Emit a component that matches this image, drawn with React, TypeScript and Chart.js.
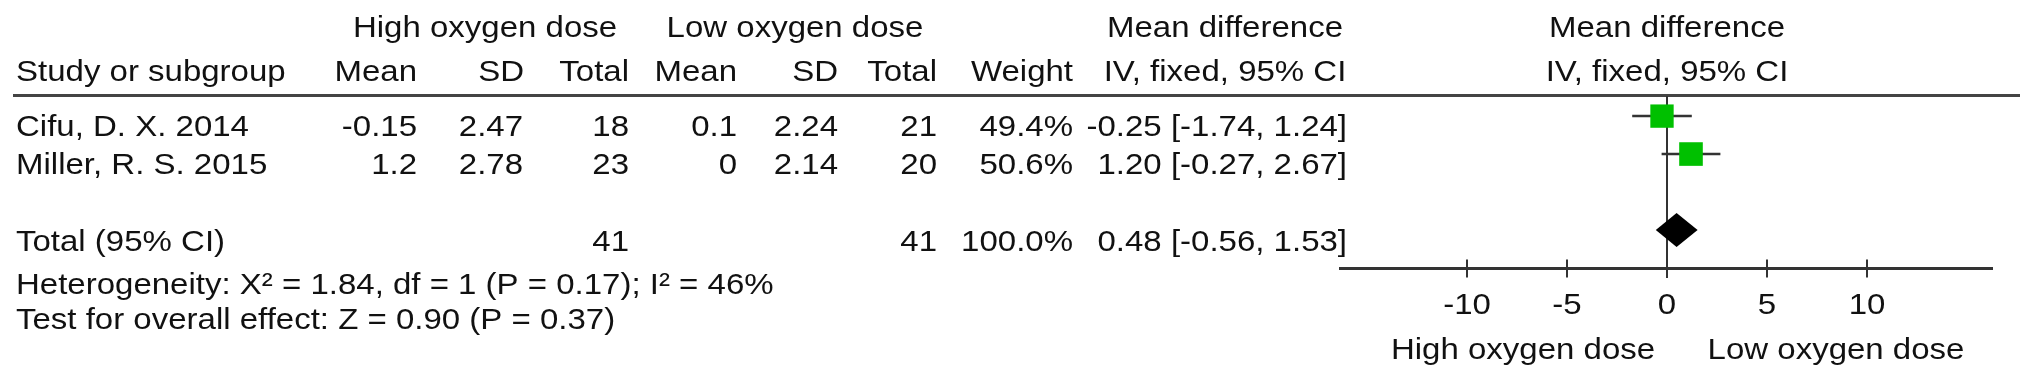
import React, { useEffect, useRef } from "react";
import { Chart, registerables } from "chart.js";

Chart.register(...registerables);

// ---- data ----
const studies = ["Cifu, D. X. 2014", "Miller, R. S. 2015"];
const highMean = [-0.15, 1.2];
const highSD = [2.47, 2.78];
const highN = [18, 23];
const lowMean = [0.1, 0];
const lowSD = [2.24, 2.14];
const lowN = [21, 20];
const weights = [49.4, 50.6];
const md = [-0.25, 1.2];
const ciLo = [-1.74, -0.27];
const ciHi = [1.24, 2.67];
const studyRows = [1, 2];

const totalLabel = "Total (95% CI)";
const totalHighN = 41;
const totalLowN = 41;
const totalWeight = 100.0;
const totalMD = 0.48;
const totalLo = -0.56;
const totalHi = 1.53;
const totalRow = 4;

const heterogeneityText = "Heterogeneity: X\u00B2 = 1.84, df = 1 (P = 0.17); I\u00B2 = 46%";
const overallText = "Test for overall effect: Z = 0.90 (P = 0.37)";

const xTicks = [-10, -5, 0, 5, 10];
const favoursLeft = "High oxygen dose";
const favoursRight = "Low oxygen dose";

// ---- style ----
const W = 2032;
const H = 379;
const FONT = '30px "Liberation Sans", Arial, sans-serif';
const SX = 1.1;
const TEXT = "#111111";
const LINE = "#333333";
const GREEN = "#00c000";

function txt(ctx: CanvasRenderingContext2D, s: string, x: number, y: number, align: "left" | "right" | "center") {
  ctx.save();
  ctx.font = FONT;
  const w = ctx.measureText(s).width * SX;
  const left = align === "right" ? x - w : align === "center" ? x - w / 2 : x;
  ctx.translate(left, y);
  ctx.scale(SX, 1);
  ctx.textAlign = "left";
  ctx.textBaseline = "alphabetic";
  ctx.fillStyle = TEXT;
  ctx.fillText(s, 0, 0);
  ctx.restore();
}

const fmt2 = (v: number) => v.toFixed(2);
const ciText = (m: number, lo: number, hi: number) => `${fmt2(m)} [${fmt2(lo)}, ${fmt2(hi)}]`;

const forestPlugin = {
  id: "forest",
  beforeDatasetsDraw(chart: any) {
    const ctx: CanvasRenderingContext2D = chart.ctx;
    const xs = chart.scales.x;
    const area = chart.chartArea;
    const x0 = xs.getPixelForValue(0);
    ctx.save();
    // header rule
    ctx.strokeStyle = "#444444";
    ctx.lineWidth = 3;
    ctx.beginPath();
    ctx.moveTo(13, area.top - 0.5);
    ctx.lineTo(2020, area.top - 0.5);
    ctx.stroke();
    // zero line
    ctx.strokeStyle = LINE;
    ctx.lineWidth = 2;
    ctx.beginPath();
    ctx.moveTo(x0, area.top);
    ctx.lineTo(x0, area.bottom + 9);
    ctx.stroke();
    ctx.restore();
  },
  afterDatasetsDraw(chart: any) {
    const ctx: CanvasRenderingContext2D = chart.ctx;
    const xs = chart.scales.x;
    const ys = chart.scales.y;
    const area = chart.chartArea;
    ctx.save();
    // diamond
    const yc = ys.getPixelForValue(totalRow);
    const hh = 17;
    ctx.fillStyle = "#000";
    ctx.beginPath();
    ctx.moveTo(xs.getPixelForValue(totalLo), yc);
    ctx.lineTo(xs.getPixelForValue(totalMD), yc - hh);
    ctx.lineTo(xs.getPixelForValue(totalHi), yc);
    ctx.lineTo(xs.getPixelForValue(totalMD), yc + hh);
    ctx.closePath();
    ctx.fill();

    // axis
    const ay = area.bottom - 0.5;
    ctx.strokeStyle = LINE;
    ctx.lineWidth = 3;
    ctx.beginPath();
    ctx.moveTo(area.left, ay);
    ctx.lineTo(area.right, ay);
    ctx.stroke();
    ctx.lineWidth = 2;
    for (const t of xTicks) {
      const px = xs.getPixelForValue(t);
      ctx.beginPath();
      ctx.moveTo(px, ay - 9);
      ctx.lineTo(px, ay + 9);
      ctx.stroke();
      txt(ctx, String(t), px, 314, "center");
    }
    txt(ctx, favoursLeft, xs.getPixelForValue(-7.2), 359, "center");
    txt(ctx, favoursRight, xs.getPixelForValue(8.45), 359, "center");

    // headers
    txt(ctx, "High oxygen dose", 485, 37, "center");
    txt(ctx, "Low oxygen dose", 795, 37, "center");
    txt(ctx, "Mean difference", 1225, 37, "center");
    txt(ctx, "Mean difference", xs.getPixelForValue(0), 37, "center");
    txt(ctx, "Study or subgroup", 16, 81, "left");
    txt(ctx, "Mean", 417, 81, "right");
    txt(ctx, "SD", 524, 81, "right");
    txt(ctx, "Total", 629, 81, "right");
    txt(ctx, "Mean", 737, 81, "right");
    txt(ctx, "SD", 838, 81, "right");
    txt(ctx, "Total", 937, 81, "right");
    txt(ctx, "Weight", 1073, 81, "right");
    txt(ctx, "IV, fixed, 95% CI", 1225, 81, "center");
    txt(ctx, "IV, fixed, 95% CI", xs.getPixelForValue(0), 81, "center");

    // study rows
    studies.forEach((name, i) => {
      const by = ys.getPixelForValue(studyRows[i]) + 20;
      txt(ctx, name, 16, by, "left");
      txt(ctx, String(highMean[i]), 417, by, "right");
      txt(ctx, String(highSD[i]), 523, by, "right");
      txt(ctx, String(highN[i]), 629, by, "right");
      txt(ctx, String(lowMean[i]), 737, by, "right");
      txt(ctx, String(lowSD[i]), 838, by, "right");
      txt(ctx, String(lowN[i]), 937, by, "right");
      txt(ctx, weights[i].toFixed(1) + "%", 1073, by, "right");
      txt(ctx, ciText(md[i], ciLo[i], ciHi[i]), 1347, by, "right");
    });

    // total row
    const tb = ys.getPixelForValue(totalRow) + 21;
    txt(ctx, totalLabel, 16, tb, "left");
    txt(ctx, String(totalHighN), 629, tb, "right");
    txt(ctx, String(totalLowN), 937, tb, "right");
    txt(ctx, totalWeight.toFixed(1) + "%", 1073, tb, "right");
    txt(ctx, ciText(totalMD, totalLo, totalHi), 1347, tb, "right");

    txt(ctx, heterogeneityText, 16, 294, "left");
    txt(ctx, overallText, 16, 329, "left");
    ctx.restore();
  },
};

export default function App() {
  const ref = useRef<HTMLCanvasElement | null>(null);
  useEffect(() => {
    document.body.style.margin = "0";
    const canvas = ref.current;
    if (!canvas) return;
    const ciSets = studies.map((_, i) => ({
      type: "line" as const,
      data: [
        { x: ciLo[i], y: studyRows[i] },
        { x: ciHi[i], y: studyRows[i] },
      ],
      showLine: true,
      borderColor: LINE,
      borderWidth: 2.5,
      pointRadius: 0,
      fill: false,
      order: 2,
    }));
    const squares = {
      type: "scatter" as const,
      data: studies.map((_, i) => ({ x: md[i], y: studyRows[i] })),
      pointStyle: "rect",
      pointRadius: weights.map((w) => 16.6 * Math.sqrt(w / 50)),
      backgroundColor: GREEN,
      borderWidth: 0,
      order: 1,
    };
    const chart = new Chart(canvas, {
      type: "scatter",
      data: { datasets: [...ciSets, squares] as any },
      options: {
        responsive: false,
        devicePixelRatio: 1,
        animation: false,
        events: [],
        layout: { padding: { left: 1339, right: W - 1993, top: 96, bottom: H - 269 } },
        scales: {
          x: { type: "linear", min: -16.4, max: 16.3, display: false },
          y: { type: "linear", min: 0.47, max: 5.03, reverse: true, display: false },
        },
        plugins: { legend: { display: false }, tooltip: { enabled: false } },
      },
      plugins: [forestPlugin],
    });
    return () => chart.destroy();
  }, []);
  return (
    <div style={{ position: "absolute", left: 0, top: 0, width: W, height: H, background: "#fff" }}>
      <canvas ref={ref} width={W} height={H} style={{ width: W, height: H, display: "block" }} />
    </div>
  );
}
